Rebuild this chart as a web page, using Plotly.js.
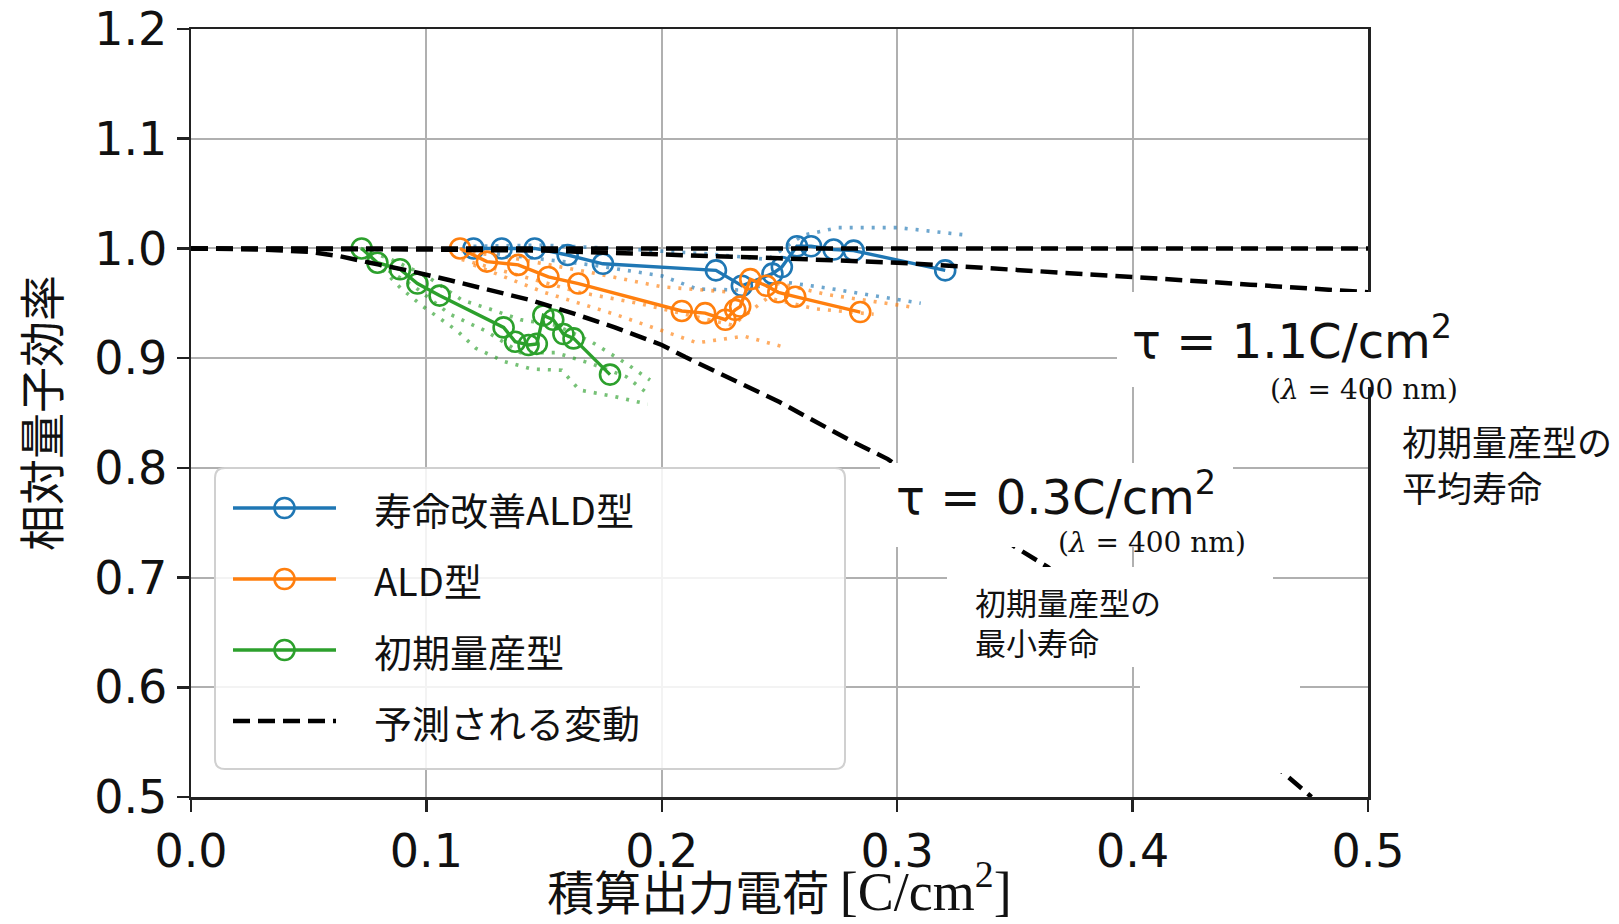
<!DOCTYPE html>
<html><head><meta charset="utf-8">
<script src="https://cdn.plot.ly/plotly-3.0.1.min.js"></script>
<style>html,body{margin:0;padding:0;background:#fff}#chart{width:1619px;height:924px}</style>
</head><body><div id="chart"></div>
<script>
// ---- names / labels ----
const seriesNames = ['寿命改善ALD型', 'ALD型', '初期量産型', '予測される変動'];
const xTitle = '積算出力電荷 <span style="font-family:Liberation Serif;font-size:54px">[C/cm<sup>2</sup>]</span>';
const yTitle = '相対量子効率';
const xTickVals = [0.0, 0.1, 0.2, 0.3, 0.4, 0.5];
const yTickVals = [0.5, 0.6, 0.7, 0.8, 0.9, 1.0, 1.1, 1.2];

// ---- 寿命改善ALD型 (blue) ----
const blueX = [0.120, 0.132, 0.146, 0.160, 0.175, 0.223, 0.234, 0.247, 0.251, 0.2574, 0.2634, 0.273, 0.2815, 0.3204];
const blueY = [1.000, 1.000, 1.000, 0.994, 0.986, 0.980, 0.966, 0.977, 0.983, 1.002, 1.002, 0.999, 0.998, 0.980];
const blueDotAX = [0.12, 0.15, 0.18, 0.22, 0.245, 0.26, 0.275, 0.30, 0.33];
const blueDotAY = [1.002, 1.003, 1.000, 0.995, 0.990, 1.012, 1.019, 1.019, 1.012];
const blueDotBX = [0.13, 0.17, 0.20, 0.215, 0.235, 0.25, 0.27, 0.29, 0.31];
const blueDotBY = [0.995, 0.985, 0.975, 0.963, 0.962, 0.970, 0.964, 0.957, 0.950];

// ---- ALD型 (orange) ----
const orangeX = [0.1143, 0.1257, 0.139, 0.1518, 0.1646, 0.2085, 0.2184, 0.227, 0.2312, 0.2333, 0.2376, 0.2444, 0.2495, 0.2567, 0.2843];
const orangeY = [1.000, 0.988, 0.985, 0.974, 0.968, 0.943, 0.941, 0.935, 0.944, 0.947, 0.972, 0.966, 0.960, 0.956, 0.942];
const orangeDotAX = [0.115, 0.14, 0.17, 0.20, 0.23, 0.25, 0.27, 0.29, 0.308];
const orangeDotAY = [0.998, 0.990, 0.978, 0.965, 0.960, 0.968, 0.958, 0.952, 0.946];
const orangeDotBX = [0.115, 0.14, 0.165, 0.19, 0.21, 0.23, 0.245, 0.265, 0.29];
const orangeDotBY = [0.990, 0.975, 0.960, 0.950, 0.940, 0.930, 0.955, 0.945, 0.940];
const orangeDotCX = [0.12, 0.15, 0.18, 0.20, 0.215, 0.235, 0.252];
const orangeDotCY = [0.985, 0.960, 0.940, 0.925, 0.914, 0.920, 0.910];

// ---- 初期量産型 (green) ----
const greenX = [0.0725, 0.0792, 0.0888, 0.0962, 0.1056, 0.1328, 0.1377, 0.1434, 0.1469, 0.1497, 0.1539, 0.1582, 0.1625, 0.178];
const greenY = [1.000, 0.987, 0.981, 0.968, 0.957, 0.928, 0.915, 0.912, 0.913, 0.939, 0.935, 0.922, 0.918, 0.885];
const greenDotAX = [0.072, 0.085, 0.10, 0.115, 0.128, 0.14, 0.155, 0.17, 0.185, 0.195];
const greenDotAY = [1.000, 0.990, 0.975, 0.953, 0.944, 0.935, 0.930, 0.915, 0.895, 0.880];
const greenDotBX = [0.075, 0.089, 0.098, 0.113, 0.121, 0.133, 0.145, 0.1575, 0.165, 0.18, 0.194];
const greenDotBY = [0.995, 0.964, 0.948, 0.925, 0.909, 0.897, 0.890, 0.889, 0.871, 0.865, 0.858];
const greenDotCX = [0.08, 0.095, 0.11, 0.125, 0.14, 0.155, 0.17, 0.185, 0.195];
const greenDotCY = [0.985, 0.965, 0.940, 0.925, 0.905, 0.905, 0.895, 0.883, 0.866];

// ---- 予測される変動 (dashed) ----
const predFlatX = [0.0, 0.5];
const predFlatY = [1.0, 1.0];
const pred11X = [0.0, 0.05, 0.10, 0.15, 0.20, 0.25, 0.30, 0.35, 0.40, 0.45, 0.50];
const pred11Y = [1.000, 1.000, 0.999, 0.998, 0.995, 0.991, 0.987, 0.981, 0.974, 0.967, 0.960];
const pred03X = [0.0, 0.03, 0.05, 0.063, 0.076, 0.092, 0.11, 0.131, 0.144, 0.162, 0.18, 0.20, 0.21, 0.25, 0.28, 0.296, 0.35, 0.364, 0.40, 0.45, 0.476];
const pred03Y = [1.000, 0.999, 0.997, 0.993, 0.987, 0.980, 0.971, 0.960, 0.953, 0.941, 0.928, 0.912, 0.901, 0.860, 0.825, 0.808, 0.728, 0.7095, 0.646, 0.548, 0.500];

// ---- annotation texts ----
const tau11Text = 'τ = 1.1C/cm<sup>2</sup>';
const tau03Text = 'τ = 0.3C/cm<sup>2</sup>';
const lambdaText = '(<i>λ</i> = 400 nm)';
const minLifeText = '初期量産型の<br>最小寿命';
const avgLifeText = '初期量産型の<br>平均寿命';

const BLUE = '#1f77b4', ORANGE = '#ff7f0e', GREEN = '#2ca02c';
const CJK = 'Noto Sans CJK JP';
const seriesColors = [BLUE, ORANGE, GREEN, '#000'];

function mainTrace(x, y, name, color) {
  return {x, y, name, type: 'scatter', mode: 'lines+markers', showlegend: false,
    line: {color, width: 3.4},
    marker: {symbol: 'circle-open', size: 20, color, line: {color, width: 2.6}}};
}
function dotTrace(x, y, color) {
  return {x, y, type: 'scatter', mode: 'lines', showlegend: false, hoverinfo: 'skip',
    opacity: 0.65, line: {color, width: 3.6, dash: '3px,8px'}};
}
function dashTrace(x, y) {
  return {x, y, name: seriesNames[3], type: 'scatter', mode: 'lines', showlegend: false,
    line: {color: '#000', width: 4.5, dash: '17px,8px'}};
}

const data = [
  dotTrace(blueDotAX, blueDotAY, BLUE), dotTrace(blueDotBX, blueDotBY, BLUE),
  dotTrace(orangeDotAX, orangeDotAY, ORANGE), dotTrace(orangeDotBX, orangeDotBY, ORANGE), dotTrace(orangeDotCX, orangeDotCY, ORANGE),
  dotTrace(greenDotAX, greenDotAY, GREEN), dotTrace(greenDotBX, greenDotBY, GREEN), dotTrace(greenDotCX, greenDotCY, GREEN),
  mainTrace(blueX, blueY, seriesNames[0], BLUE),
  mainTrace(orangeX, orangeY, seriesNames[1], ORANGE),
  mainTrace(greenX, greenY, seriesNames[2], GREEN),
  dashTrace(predFlatX, predFlatY),
  dashTrace(pred11X, pred11Y),
  dashTrace(pred03X, pred03Y)
];

// pixel -> paper helpers (plot area 191..1368 x 29..797)
const PL = 191, PR = 1368, PT = 29, PB = 797;
const pxX = v => (v - PL) / (PR - PL);
const pxY = v => (PB - v) / (PB - PT);

function roundRect(x0, y0, x1, y1, r) {
  const rx = r / (PR - PL), ry = r / (PB - PT);
  const a = pxX(x0), b = pxX(x1), t = pxY(y0), u = pxY(y1);
  return `M${a + rx},${t} L${b - rx},${t} Q${b},${t} ${b},${t - ry} L${b},${u + ry} Q${b},${u} ${b - rx},${u} L${a + rx},${u} Q${a},${u} ${a},${u + ry} L${a},${t - ry} Q${a},${t} ${a + rx},${t} Z`;
}
function whiteBox(x0, y0, x1, y1) {
  return {type: 'rect', xref: 'paper', yref: 'paper', layer: 'above',
    x0: pxX(x0), x1: pxX(x1), y0: pxY(y1), y1: pxY(y0),
    fillcolor: '#fff', line: {width: 0}};
}

// label backgrounds (white panels behind the annotation texts)
const shapes = [
  whiteBox(1117, 292, 1470, 387),
  whiteBox(880, 463, 1233, 547),
  whiteBox(947, 567, 1273, 667),
  whiteBox(1140, 667, 1300, 773),
  // legend frame
  {type: 'path', xref: 'paper', yref: 'paper', layer: 'above',
   path: roundRect(215, 468, 845, 769, 10),
   fillcolor: 'rgba(255,255,255,0.85)', line: {color: '#d0d0d0', width: 2}}
];

// legend entries (custom, matplotlib-style long handles)
const legendRowsY = [508, 579, 650, 721];
const annotations = [];
seriesNames.forEach((name, i) => {
  const yy = pxY(legendRowsY[i]);
  const isDash = i === 3;
  shapes.push({type: 'line', xref: 'paper', yref: 'paper', layer: 'above',
    x0: pxX(233), x1: pxX(336), y0: yy, y1: yy,
    line: {color: seriesColors[i], width: isDash ? 4.5 : 3.4, dash: isDash ? '17px,8px' : 'solid'}});
  if (!isDash) {
    shapes.push({type: 'circle', xref: 'paper', yref: 'paper', layer: 'above',
      xsizemode: 'pixel', ysizemode: 'pixel', xanchor: pxX(284.5), yanchor: yy,
      x0: -10, x1: 10, y0: -10, y1: 10,
      fillcolor: 'rgba(0,0,0,0)', line: {color: seriesColors[i], width: 2.6}});
  }
  annotations.push({xref: 'paper', yref: 'paper', x: pxX(372), y: yy, xanchor: 'left', yanchor: 'middle',
    text: name, showarrow: false, font: {family: CJK, size: 38, color: '#111'}});
});

annotations.push(
  {xref: 'paper', yref: 'paper', x: pxX(1292), y: pxY(338), xanchor: 'center', yanchor: 'middle',
   text: tau11Text, showarrow: false, font: {family: 'DejaVu Sans', size: 48, color: '#111'}},
  {xref: 'paper', yref: 'paper', x: pxX(1364), y: pxY(389), xanchor: 'center', yanchor: 'middle',
   text: lambdaText, showarrow: false, font: {family: 'DejaVu Serif', size: 28, color: '#111'}},
  {xref: 'paper', yref: 'paper', x: pxX(1056), y: pxY(494), xanchor: 'center', yanchor: 'middle',
   text: tau03Text, showarrow: false, font: {family: 'DejaVu Sans', size: 48, color: '#111'}},
  {xref: 'paper', yref: 'paper', x: pxX(1152), y: pxY(542), xanchor: 'center', yanchor: 'middle',
   text: lambdaText, showarrow: false, font: {family: 'DejaVu Serif', size: 28, color: '#111'}},
  {xref: 'paper', yref: 'paper', x: pxX(973), y: pxY(621), xanchor: 'left', yanchor: 'middle',
   text: minLifeText, showarrow: false, align: 'left', font: {family: CJK, size: 31, color: '#111'}},
  {xref: 'paper', yref: 'paper', x: pxX(1400), y: pxY(463), xanchor: 'left', yanchor: 'middle',
   text: avgLifeText, showarrow: false, align: 'left', font: {family: CJK, size: 35, color: '#111'}}
);

const axisCommon = {
  showline: true, mirror: true, linecolor: '#222', linewidth: 2.5,
  ticks: 'outside', ticklen: 12, tickwidth: 2.5, tickcolor: '#222',
  showgrid: true, gridcolor: '#b0b0b0', gridwidth: 2,
  zeroline: false, tickfont: {family: 'DejaVu Sans', size: 46, color: '#111'},
  tickformat: '.1f'
};

const layout = {
  width: 1619, height: 924,
  margin: {l: PL, r: 1619 - PR, t: PT, b: 924 - PB},
  paper_bgcolor: '#fff', plot_bgcolor: '#fff',
  xaxis: Object.assign({}, axisCommon, {range: [0, 0.5], tickvals: xTickVals,
    title: {text: xTitle, font: {family: CJK, size: 47, color: '#111'}, standoff: 15}}),
  yaxis: Object.assign({}, axisCommon, {range: [0.5, 1.2], tickvals: yTickVals,
    title: {text: yTitle, font: {family: CJK, size: 46, color: '#111'}, standoff: 20}}),
  showlegend: false,
  shapes, annotations
};

Plotly.newPlot('chart', data, layout, {displayModeBar: false, staticPlot: true});
</script>
</body></html>
